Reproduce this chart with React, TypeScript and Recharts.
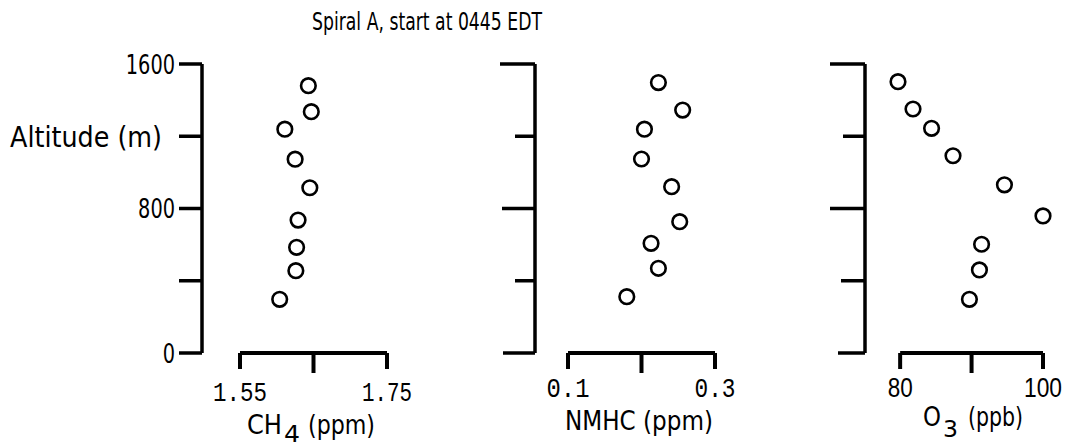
import React from 'react'
import { ScatterChart, Scatter, XAxis, YAxis, ReferenceLine, Label } from 'recharts'

const WIDTH = 1069
const HEIGHT = 448
const PLOT_TOP = 64
const PLOT_BOTTOM = 353
const Y_AXIS_WIDTH = 60

const FONT = '"DejaVu Sans", "Liberation Sans", sans-serif'
const NARROW = '"Liberation Sans", "DejaVu Sans", sans-serif'
const MONO = '"Liberation Mono", "DejaVu Sans Mono", monospace'

// altitude axis (shared)
const altitudeTicks = [0, 400, 800, 1200, 1600]
const altitudeTickLabels = ['0', '', '800', '', '1600']

// CH4 panel
const ch4Ticks = [1.55, 1.65, 1.75]
const ch4TickLabels = ['1.55', '', '1.75']
const ch4Values = [1.643, 1.647, 1.611, 1.625, 1.645, 1.629, 1.627, 1.626, 1.604]
const ch4Altitudes = [1480, 1336, 1239, 1073, 915, 736, 585, 456, 297]

// NMHC panel
const nmhcTicks = [0.1, 0.2, 0.3]
const nmhcTickLabels = ['0.1', '', '0.3']
const nmhcValues = [0.223, 0.256, 0.204, 0.2, 0.241, 0.252, 0.213, 0.223, 0.18]
const nmhcAltitudes = [1497, 1345, 1239, 1074, 921, 727, 607, 469, 312]

// O3 panel
const o3Ticks = [80, 90, 100]
const o3TickLabels = ['80', '', '100']
const o3Values = [79.7, 81.8, 84.4, 87.4, 94.6, 100, 91.4, 91.1, 89.7]
const o3Altitudes = [1502, 1351, 1244, 1092, 931, 759, 602, 460, 297]

// axis title pieces: [text, left x, right x, baseline, font size]
type Piece = [string, number, number, number, number]

type Panel = {
  id: string
  plotLeft: number
  plotRight: number
  xPad: number
  ticks: number[]
  tickLabels: string[]
  tickFont: string
  tickWidths: number[]
  tickBaseline: number
  values: number[]
  altitudes: number[]
  yTickLens: number[]
  showYLabels: boolean
  title: Piece[]
}

const panels: Panel[] = [
  {
    id: 'ch4', plotLeft: 202, plotRight: 387, xPad: 38,
    ticks: ch4Ticks, tickLabels: ch4TickLabels, tickFont: MONO, tickWidths: [54, 0, 50], tickBaseline: 401,
    values: ch4Values, altitudes: ch4Altitudes,
    yTickLens: [23, 23, 23, 23, 23], showYLabels: true,
    title: [['CH', 247, 282, 434, 26], ['4', 284, 300, 442, 23], ['(ppm)', 308, 375, 434, 26]],
  },
  {
    id: 'nmhc', plotLeft: 535, plotRight: 715, xPad: 33,
    ticks: nmhcTicks, tickLabels: nmhcTickLabels, tickFont: MONO, tickWidths: [43, 0, 41], tickBaseline: 397,
    values: nmhcValues, altitudes: nmhcAltitudes,
    yTickLens: [32, 20, 33, 20, 35], showYLabels: false,
    title: [['NMHC (ppm)', 565, 713, 430, 26]],
  },
  {
    id: 'o3', plotLeft: 865, plotRight: 1043, xPad: 33,
    ticks: o3Ticks, tickLabels: o3TickLabels, tickFont: NARROW, tickWidths: [25, 0, 38], tickBaseline: 397,
    values: o3Values, altitudes: o3Altitudes,
    yTickLens: [27, 24, 35, 22, 35], showYLabels: false,
    title: [['O', 923, 941, 426, 26], ['3', 943, 958, 437, 23], ['(ppb)', 968, 1023, 426, 26]],
  },
]

function YTick(props: any) {
  const { x, y, payload, lens, showLabels } = props
  const i = altitudeTicks.indexOf(payload.value)
  const len = lens[i] ?? 20
  const label = showLabels ? altitudeTickLabels[i] : ''
  return (
    <g>
      <line x1={x - len} x2={x} y1={y} y2={y} stroke="#000" strokeWidth={3.5} />
      {label ? (
        <text
          x={x - len - 4}
          y={y}
          dy="0.36em"
          textAnchor="end"
          fontFamily={FONT}
          fontSize={27}
          fill="#000"
          textLength={label.length * 12.3}
          lengthAdjust="spacingAndGlyphs"
        >
          {label}
        </text>
      ) : null}
    </g>
  )
}

function XTick(props: any) {
  const { x, y, payload, panel } = props
  const p = panel as Panel
  const i = p.ticks.indexOf(payload.value)
  const len = i === 1 ? 20 : 16
  const label = p.tickLabels[i]
  return (
    <g>
      <line x1={x} x2={x} y1={y} y2={y + len} stroke="#000" strokeWidth={4} />
      {label ? (
        <text
          x={x}
          y={p.tickBaseline}
          textAnchor="middle"
          fontFamily={p.tickFont}
          fontSize={27}
          fill="#000"
          textLength={p.tickWidths[i]}
          lengthAdjust="spacingAndGlyphs"
        >
          {label}
        </text>
      ) : null}
    </g>
  )
}

function Ring(props: any) {
  const { cx, cy } = props
  return <circle cx={cx} cy={cy} r={7.3} fill="none" stroke="#000" strokeWidth={2.6} />
}

function PanelChart({ panel }: { panel: Panel }) {
  const data = panel.values.map((v, i) => ({ x: v, y: panel.altitudes[i] }))
  const lo = panel.ticks[0]
  const hi = panel.ticks[panel.ticks.length - 1]

  return (
    <div style={{ position: 'absolute', left: 0, top: 0 }}>
      <ScatterChart
        width={WIDTH}
        height={HEIGHT}
        margin={{ top: PLOT_TOP, right: WIDTH - panel.plotRight, bottom: 0, left: panel.plotLeft - Y_AXIS_WIDTH }}
      >
        <XAxis
          type="number"
          dataKey="x"
          domain={[lo, hi]}
          ticks={panel.ticks}
          interval={0}
          padding={{ left: panel.xPad, right: 0 }}
          height={HEIGHT - PLOT_BOTTOM}
          axisLine={false}
          tickLine={false}
          tickSize={0}
          tickMargin={0}
          tick={(p: any) => <XTick {...p} panel={panel} />}
        >
          <Label
            content={() => (
              <g>
                {panel.title.map(([t, x0, x1, base, size]) => (
                  <text
                    key={t}
                    x={x0}
                    y={base}
                    textAnchor="start"
                    fontFamily={FONT}
                    fontSize={size}
                    fill="#000"
                    textLength={x1 - x0}
                    lengthAdjust="spacingAndGlyphs"
                  >
                    {t}
                  </text>
                ))}
              </g>
            )}
          />
        </XAxis>
        <YAxis
          type="number"
          dataKey="y"
          domain={[0, 1600]}
          ticks={altitudeTicks}
          interval={0}
          width={Y_AXIS_WIDTH}
          axisLine={{ stroke: '#000', strokeWidth: 3.5 }}
          tickLine={false}
          tickSize={0}
          tickMargin={0}
          tick={(p: any) => <YTick {...p} lens={panel.yTickLens} showLabels={panel.showYLabels} />}
        >
          {panel.showYLabels ? (
            <Label
              content={() => (
                <text
                  x={10}
                  y={147}
                  textAnchor="start"
                  fontFamily={FONT}
                  fontSize={28}
                  fill="#000"
                  textLength={152}
                  lengthAdjust="spacingAndGlyphs"
                >
                  Altitude (m)
                </text>
              )}
            />
          ) : null}
        </YAxis>
        <ReferenceLine
          segment={[{ x: lo, y: 0 }, { x: hi, y: 0 }]}
          stroke="#000"
          strokeWidth={4}
          ifOverflow="visible"
        />
        <Scatter data={data} shape={(p: any) => <Ring {...p} />} isAnimationActive={false} />
      </ScatterChart>
    </div>
  )
}

export default function App() {
  return (
    <div style={{ position: 'absolute', left: 0, top: 0, width: WIDTH, height: HEIGHT, background: '#fff' }}>
      <svg width={WIDTH} height={44} style={{ position: 'absolute', left: 0, top: 0 }}>
        <text
          x={427}
          y={30}
          textAnchor="middle"
          fontFamily={FONT}
          fontSize={24}
          fill="#000"
          textLength={230}
          lengthAdjust="spacingAndGlyphs"
        >
          Spiral A, start at 0445 EDT
        </text>
      </svg>
      {panels.map(p => (
        <PanelChart key={p.id} panel={p} />
      ))}
    </div>
  )
}
